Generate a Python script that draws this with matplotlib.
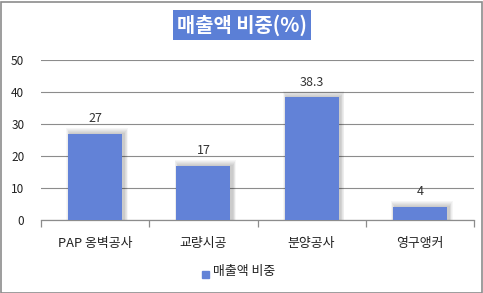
import matplotlib
matplotlib.use("Agg")
import matplotlib.pyplot as plt
from matplotlib.patches import Rectangle

plt.rcParams['font.family'] = ['Noto Sans CJK KR', 'DejaVu Sans']

categories = ["PAP 옹벽공사", "교량시공", "분양공사", "영구앵커"]
values = [27, 17, 38.3, 4]
value_labels = ["27", "17", "38.3", "4"]
yticks = [0, 10, 20, 30, 40, 50]

BAR_COLOR = "#6282d7"
GRID_COLOR = "#8c8c8c"

W, H = 483, 293
fig = plt.figure(figsize=(W / 100, H / 100), dpi=100)
fig.patch.set_facecolor("white")

# outer border
fig.patches.append(Rectangle((0.5 / W, 0.5 / H), 1 - 2 / W, 1 - 2 / H,
                             transform=fig.transFigure, fill=False,
                             edgecolor="#8c8c8c", linewidth=1.2))

ax = fig.add_axes([41 / W, 73 / H, (474 - 41) / W, (233 - 73) / H])
x = list(range(len(categories)))

# pixel -> data units
px_x = len(categories) / (474 - 41)
px_y = 50 / (233 - 73)

# soft shadow behind bars (offset right, spread a few pixels)
for i, v in enumerate(values):
    for g in range(6, 0, -1):
        ax.add_patch(Rectangle((x[i] - 0.25 - g * 0.6 * px_x + 2 * px_x, 0),
                               0.5 + g * 1.2 * px_x, v + g * px_y,
                               color="black", alpha=0.035,
                               linewidth=0, zorder=2))

ax.bar(x, values, width=0.5, color=BAR_COLOR, zorder=3)

for i, v in enumerate(values):
    ax.text(x[i], v + 4.8, value_labels[i], ha="center", va="center",
            fontsize=9, color="#333333")

ax.set_xlim(-0.5, len(categories) - 0.5)
ax.set_ylim(0, 50)
ax.set_yticks(yticks)
ax.yaxis.grid(True, color=GRID_COLOR, linewidth=0.8)
ax.set_axisbelow(True)
for side in ["top", "right", "left"]:
    ax.spines[side].set_visible(False)
ax.spines["bottom"].set_color(GRID_COLOR)
ax.spines["bottom"].set_linewidth(0.9)

ax.set_xticks(x)
ax.set_xticklabels(categories, fontsize=9.3, color="#222222")
ax.tick_params(axis="x", length=0, pad=12)
ax.set_xticks([i - 0.5 for i in range(len(categories) + 1)], minor=True)
ax.tick_params(axis="x", which="minor", length=5, color=GRID_COLOR, width=0.9)
ax.tick_params(axis="y", length=0, labelsize=8.5, labelcolor="#222222", pad=12)

# title in blue box
fig.text(242 / W, 1 - 25 / H, "매출액 비중(%)", ha="center", va="center",
         fontsize=14.3, fontweight="bold", color="white",
         bbox=dict(boxstyle="square,pad=0.2", fc="#5b7fd6", ec="none"))

# legend
fig.patches.append(Rectangle((202 / W, 1 - 278 / H), 7 / W, 7 / H,
                             transform=fig.transFigure, color=BAR_COLOR))
fig.text(213 / W, 1 - 272 / H, "매출액 비중", ha="left", va="center",
         fontsize=9.3, color="#222222")

fig.savefig("out.png", dpi=100, facecolor="white")
